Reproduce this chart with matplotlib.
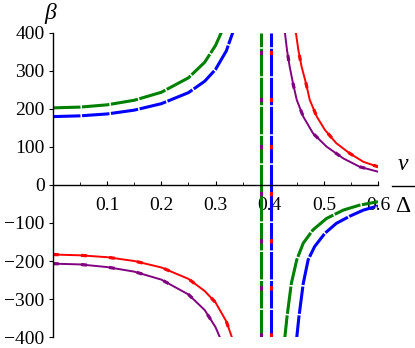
"""Curvas beta vs nu/Delta (estilo Maple)"""

import matplotlib.pyplot as plt
import matplotlib.lines as mlines
from matplotlib.ticker import MultipleLocator

# valores
nu_izq_verde = [0.0, 0.05, 0.10, 0.15, 0.20, 0.25, 0.28, 0.30, 0.31, 0.315]
beta_verde_sup = [203, 205, 211, 223, 244, 282, 323, 367, 399, 420]
nu_izq_azul = [0.0, 0.05, 0.10, 0.15, 0.20, 0.25, 0.28, 0.30, 0.32, 0.335]
beta_azul_sup = [180, 182, 187, 197, 214, 243, 273, 304, 353, 414]
nu_izq_rojo = [0.0, 0.05, 0.10, 0.15, 0.20, 0.25, 0.28, 0.30, 0.32, 0.335]
beta_rojo_inf = [-183, -185, -190, -200, -217, -247, -279, -309, -359, -420]
nu_izq_morado = [0.0, 0.05, 0.10, 0.15, 0.20, 0.25, 0.28, 0.30, 0.31, 0.315]
beta_morado_inf = [-207, -209, -216, -228, -249, -288, -329, -374, -407, -425]

nu_der_rojo = [0.447, 0.453, 0.459, 0.467, 0.474, 0.487, 0.502, 0.523,
               0.548, 0.573, 0.600]
beta_rojo_sup = [415, 355, 311, 268, 224, 180, 145, 110, 83, 61, 48]
nu_der_morado = [0.427, 0.432, 0.437, 0.443, 0.450, 0.462, 0.480, 0.505,
                 0.536, 0.566, 0.600]
beta_morado_sup = [415, 355, 311, 268, 224, 180, 136, 101, 70, 48, 35]
nu_der_verde = [0.427, 0.432, 0.440, 0.450, 0.462, 0.480, 0.505, 0.536,
                0.566, 0.600]
beta_verde_inf = [-415, -347, -259, -197, -153, -118, -88, -66, -53, -44]
nu_der_azul = [0.449, 0.454, 0.462, 0.471, 0.483, 0.502, 0.523, 0.548,
               0.573, 0.600]
beta_azul_inf = [-415, -347, -259, -197, -162, -127, -101, -82, -66, -55]

asintota_1 = 0.384  # verde / morado
asintota_2 = 0.402  # azul / rojo

VERDE = '#008000'
AZUL = '#0000ff'
ROJO = '#ff0000'
MORADO = '#800080'

fig = plt.figure(figsize=(4.15, 3.48), dpi=100)
ax = fig.add_axes([53 / 415, 11 / 348, 325 / 415, 304 / 348])


def linea_discontinua(x, y, color):
    ax.plot(x, y, color=color, lw=2.2, dashes=(9, 0.5),
            solid_capstyle='butt', dash_capstyle='butt')


def linea_punteada(x, y, color):
    ax.plot(x, y, color=color, lw=1.4)
    ax.plot(x, y, color=color, lw=2.3, dashes=(1.8, 7),
            dash_capstyle='butt')


def vertical(x, color, estilo):
    if estilo == 'disc':
        ax.plot([x, x], [-400, 400], color=color, lw=2.2, dashes=(9, 0.5),
                dash_capstyle='butt')
    else:
        ax.plot([x, x], [-400, 400], color=color, lw=2.2, dashes=(1.4, 14),
                dash_capstyle='butt')


linea_discontinua(nu_izq_verde, beta_verde_sup, VERDE)
linea_discontinua(nu_izq_azul, beta_azul_sup, AZUL)
linea_punteada(nu_izq_rojo, beta_rojo_inf, ROJO)
linea_punteada(nu_izq_morado, beta_morado_inf, MORADO)
linea_punteada(nu_der_rojo, beta_rojo_sup, ROJO)
linea_punteada(nu_der_morado, beta_morado_sup, MORADO)
linea_discontinua(nu_der_verde, beta_verde_inf, VERDE)
linea_discontinua(nu_der_azul, beta_azul_inf, AZUL)
vertical(asintota_1, VERDE, 'disc')
vertical(asintota_1, MORADO, 'punto')
vertical(asintota_2, AZUL, 'disc')
vertical(asintota_2, ROJO, 'punto')

ax.set_xlim(0, 0.6)
ax.set_ylim(-400, 400)
ax.spines['left'].set_position(('data', 0))
ax.spines['bottom'].set_position(('data', 0))
ax.spines['right'].set_visible(False)
ax.spines['top'].set_visible(False)
ax.xaxis.set_major_locator(MultipleLocator(0.1))
ax.xaxis.set_minor_locator(MultipleLocator(0.05))
ax.yaxis.set_major_locator(MultipleLocator(100))
ax.patch.set_visible(False)

fuente = 'Liberation Serif'
xt = [0.1, 0.2, 0.3, 0.4, 0.5, 0.6]
ax.set_xticks(xt)
ax.set_xticklabels([f'{v:.1f}' for v in xt])
yt = list(range(-400, 401, 100))
ax.set_yticks(yt)
ax.set_yticklabels([str(v).replace('-', '\u2212') for v in yt])
ax.tick_params(axis='x', which='major', direction='in', length=3, pad=9,
               labelsize=14)
ax.tick_params(axis='x', which='minor', direction='in', length=2)
ax.tick_params(axis='y', direction='out', length=3, pad=3, labelsize=14)
for lab in ax.get_xticklabels() + ax.get_yticklabels():
    lab.set_fontfamily(fuente)
for lado in ('left', 'bottom'):
    ax.spines[lado].set_linewidth(1)

fig.text(50 / 415, 1 - 13 / 348, 'β', family=fuente, style='italic',
         size=17, ha='center', va='center')
fig.text(403 / 415, 1 - 164 / 348, 'ν', family=fuente, style='italic',
         size=17, ha='center', va='center')
fig.text(403 / 415, 1 - 206 / 348, 'Δ', family=fuente, size=17,
         ha='center', va='center')
fig.add_artist(mlines.Line2D([392 / 415, 415 / 415],
                             [1 - 186 / 348, 1 - 186 / 348],
                             color='black', lw=1))

fig.savefig('out.png', dpi=100)
